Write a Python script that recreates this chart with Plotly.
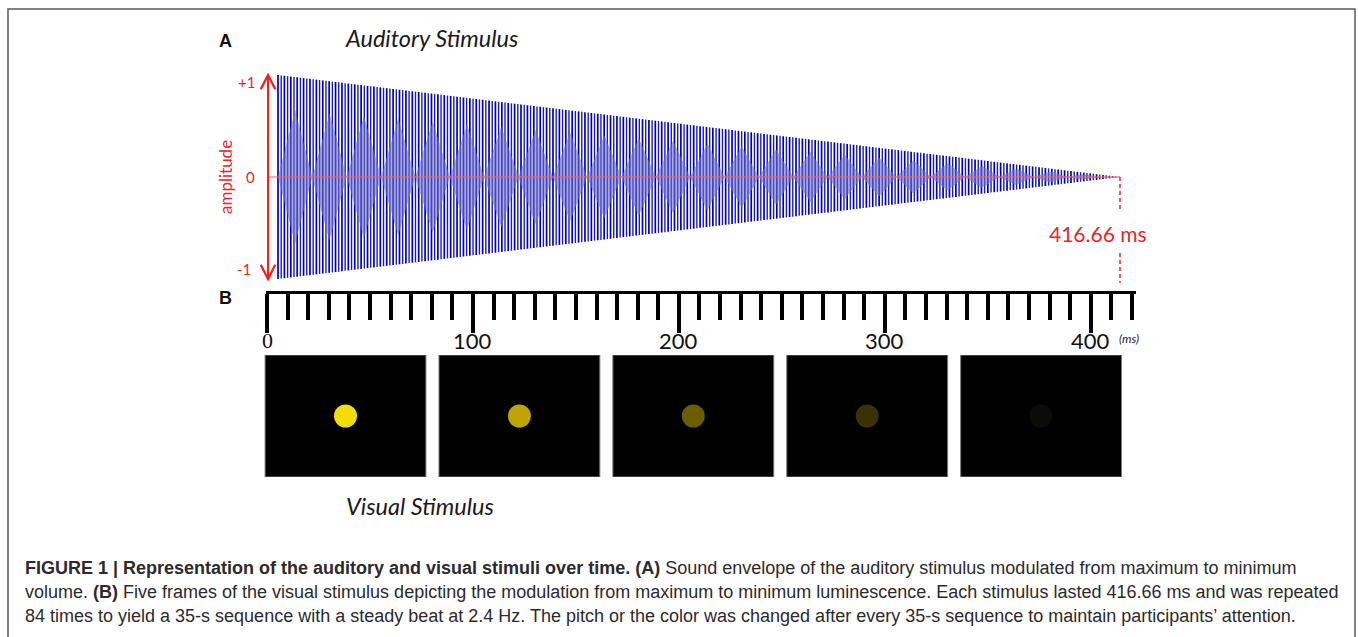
import numpy as np
import plotly.graph_objects as go

# ---------------- data ----------------
WAVE_DURATION_MS = 416.66          # length of one stimulus
TONE_HZ = 316                       # carrier pitch (one stroke per half cycle)
BEAT_PERIOD_MS = 17.0               # period of the visible beat pattern
BEAT_DEPTH = 0.67                   # relative height of the beat pattern
AMP_LABELS = ["+1", "0", "-1"]
AMP_LABEL_VALUES = [0.93, 0.0, -0.9]
RULER_MAJOR = [0, 100, 200, 300, 400]
RULER_MAJOR_TEXT = ["0", "100", "200", "300", "400"]
RULER_MINOR_STEP = 10
RULER_END_MS = 422
FRAME_INDEX = [0, 1, 2, 3, 4]
FRAME_DOT_COLORS = ["#F2DF00", "#BCA700", "#6B5E00", "#3A3206", "#0B0B07"]
CAPTION_LINES = [
    "<b>FIGURE 1 | Representation of the auditory and visual stimuli over time. (A)</b> Sound envelope of the auditory stimulus modulated from maximum to minimum",
    "volume. <b>(B)</b> Five frames of the visual stimulus depicting the modulation from maximum to minimum luminescence. Each stimulus lasted 416.66 ms and was repeated",
    "84 times to yield a 35-s sequence with a steady beat at 2.4 Hz. The pitch or the color was changed after every 35-s sequence to maintain participants\u2019 attention.",
]

W, H = 1358, 637
def px(x): return x / W
def py(y): return 1 - y / H

RED = "#E8262A"

fig = go.Figure()

# ---------------- auditory waveform ----------------
half_period = 1000.0 / (2 * TONE_HZ)
n_strokes = int(WAVE_DURATION_MS / half_period) + 1
xs_a, ys_a, xs_b, ys_b = [], [], [], []
for k in range(n_strokes):
    t = k * half_period
    env = max(0.0, 1 - t / WAVE_DURATION_MS)
    if k % 2 == 0:
        xs_a += [t, t, None]; ys_a += [env, -env, None]
    else:
        xs_b += [t, t, None]; ys_b += [env, -env, None]
fig.add_trace(go.Scatter(x=xs_a, y=ys_a, mode="lines",
                         line=dict(color="#0000B8", width=1.7), hoverinfo="skip"))
fig.add_trace(go.Scatter(x=xs_b, y=ys_b, mode="lines",
                         line=dict(color="#1E1EA6", width=1.4), hoverinfo="skip"))

tt = np.linspace(0, WAVE_DURATION_MS, 3000)
ph = (tt / BEAT_PERIOD_MS) % 1.0
tri = 1 - np.abs(2 * ph - 1)
dd = BEAT_DEPTH * (1 - tt / WAVE_DURATION_MS) * tri
fig.add_trace(go.Scatter(x=np.concatenate([tt, tt[::-1]]),
                         y=np.concatenate([dd, -dd[::-1]]),
                         mode="lines", fill="toself",
                         fillcolor="rgba(112,112,204,0.6)",
                         line=dict(width=0), hoverinfo="skip"))

# ---------------- visual frames ----------------
rx, ry = [], []
for i in FRAME_INDEX:
    rx += [i - 0.4625, i + 0.4625, i + 0.4625, i - 0.4625, i - 0.4625, None]
    ry += [0, 0, 1, 1, 0, None]
fig.add_trace(go.Scatter(x=rx, y=ry, xaxis="x3", yaxis="y3", mode="lines",
                         fill="toself", fillcolor="#000000",
                         line=dict(color="#7a7a7a", width=1), hoverinfo="skip"))
fig.add_trace(go.Scatter(x=FRAME_INDEX, y=[0.5] * len(FRAME_INDEX), xaxis="x3", yaxis="y3",
                         mode="markers",
                         marker=dict(size=23, color=FRAME_DOT_COLORS, line=dict(width=0)),
                         hoverinfo="skip"))

# ruler helper trace (invisible) so the axis is drawn
fig.add_trace(go.Scatter(x=[0, RULER_END_MS], y=[0, 0], xaxis="x2", yaxis="y2",
                         mode="markers", marker=dict(opacity=0), hoverinfo="skip"))

# ---------------- axes ----------------
PX_PER_MS = 2.0209
x0_ms = -4.95                         # position of the amplitude arrow
x_lo = -(278 - 255) / PX_PER_MS
x_hi = WAVE_DURATION_MS + (1125 - 1120) / PX_PER_MS
y_pad = 5 / 102
fig.update_layout(
    width=W, height=H, margin=dict(l=0, r=0, t=0, b=0),
    paper_bgcolor="white", plot_bgcolor="rgba(0,0,0,0)", showlegend=False,
    xaxis=dict(domain=[px(255), px(1125)], range=[x_lo, x_hi],
               visible=False, anchor="y"),
    yaxis=dict(domain=[py(284), py(70)], range=[-1 - y_pad, 1 + y_pad], visible=False, anchor="x"),
    xaxis2=dict(domain=[px(266), px(1136)], range=[-0.5, RULER_END_MS], anchor="y2",
                showline=True, linewidth=3, linecolor="black", showgrid=False,
                zeroline=False, side="bottom", ticks="outside",
                tickvals=RULER_MAJOR, showticklabels=False,
                ticklen=39, tickwidth=3.5, tickcolor="black",
                minor=dict(dtick=RULER_MINOR_STEP, tick0=0, ticks="outside",
                           ticklen=26, tickwidth=3.5, tickcolor="black", showgrid=False)),
    yaxis2=dict(domain=[py(290.5), py(284)], range=[0, 1], visible=False, anchor="x2"),
    xaxis3=dict(domain=[px(258.55), px(1128.05)], range=[-0.5, 4.5], visible=False, anchor="y3"),
    yaxis3=dict(domain=[py(477), py(355)], range=[0, 1], visible=False, anchor="x3"),
)

# ---------------- shapes ----------------
shapes = []
# outer border
shapes.append(dict(type="path", xref="paper", yref="paper",
                   path=f"M {px(8)},{py(640)} L {px(8)},{py(9)} L {px(1355)},{py(9)} L {px(1355)},{py(640)}",
                   line=dict(color="#5a5a5a", width=1.5)))
# zero line
shapes.append(dict(type="line", xref="x", yref="y", x0=x0_ms, x1=WAVE_DURATION_MS, y0=0, y1=0,
                   line=dict(color="#FF5C5C", width=1)))
# amplitude arrow
ah_dx, ah_dy = 3.6, 0.14
shapes.append(dict(type="line", xref="x", yref="y", x0=x0_ms, x1=x0_ms, y0=-1.0, y1=1.0,
                   line=dict(color="#FF1A1A", width=2)))
shapes.append(dict(type="path", xref="x", yref="y",
                   path=f"M {x0_ms-ah_dx},{1-ah_dy} L {x0_ms},1 L {x0_ms+ah_dx},{1-ah_dy}",
                   line=dict(color="#FF1A1A", width=2.2)))
shapes.append(dict(type="path", xref="x", yref="y",
                   path=f"M {x0_ms-ah_dx},{-1+ah_dy} L {x0_ms},-1 L {x0_ms+ah_dx},{-1+ah_dy}",
                   line=dict(color="#FF1A1A", width=2.2)))
# duration marker (dashed)
shapes.append(dict(type="line", xref="x", yref="y", x0=WAVE_DURATION_MS, x1=WAVE_DURATION_MS,
                   y0=0, y1=-0.32, line=dict(color=RED, width=1.5, dash="4px,3px")))
shapes.append(dict(type="line", xref="x", yref="y", x0=WAVE_DURATION_MS, x1=WAVE_DURATION_MS,
                   y0=-0.745, y1=-1.04, line=dict(color=RED, width=1.5, dash="4px,3px")))
fig.update_layout(shapes=shapes)

# ---------------- annotations ----------------
ann = []
def txt(x, y, s, size, color="#111", family="Lato", style="normal",
        xanchor="center", textangle=0):
    ann.append(dict(x=px(x), y=py(y), xref="paper", yref="paper",
                    text=s, showarrow=False,
                    xanchor=xanchor, yanchor="middle", textangle=textangle,
                    font=dict(size=size, color=color, family=family, style=style)))

txt(225, 41, "<b>A</b>", 18, family="Liberation Sans", color="#111")
txt(225, 298, "<b>B</b>", 18, family="Liberation Sans", color="#111")
txt(431, 38, "Auditory Stimulus", 23.5, style="italic", color="#1a1a1a")
txt(420, 506, "Visual Stimulus", 23.5, style="italic", color="#1a1a1a")
for lab, val, xx in zip(AMP_LABELS, AMP_LABEL_VALUES, [246, 250, 244]):
    txt(xx, 177 - val * 102, lab, 15, color=RED)
txt(226, 177, "amplitude", 17, color=RED, textangle=-90)
txt(1098, 234, "416.66 ms", 21, color=RED)
txt(1129, 338, "(ms)", 12, style="italic", color="#222")
for v, s in zip(RULER_MAJOR, RULER_MAJOR_TEXT):
    ann.append(dict(x=v, y=py(341), xref="x2", yref="paper", text=s, showarrow=False,
                    xanchor="center", yanchor="middle",
                    font=dict(size=22, color="#111",
                              family="Liberation Serif" if s == "0" else "Lato")))
for line, yy in zip(CAPTION_LINES, [568, 592, 616]):
    txt(23, yy, line, 18, family="Liberation Sans", color="#2b2b2b", xanchor="left")
fig.update_layout(annotations=ann)

fig.write_html("out.html")
